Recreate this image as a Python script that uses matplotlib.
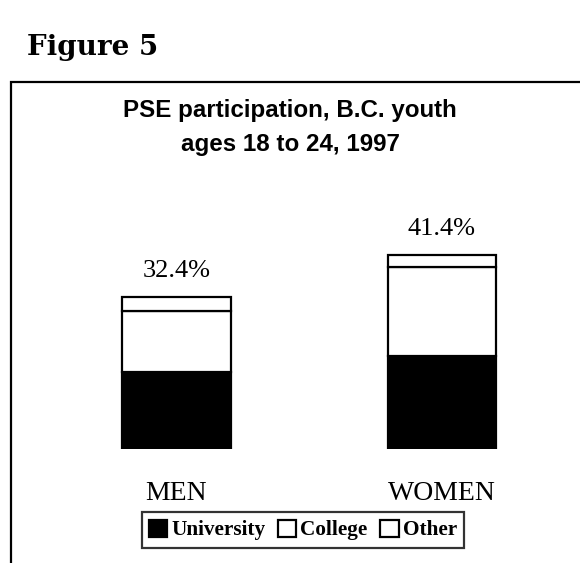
import matplotlib.pyplot as plt
from matplotlib.patches import Rectangle

# PSE participation, B.C. youth ages 18 to 24, 1997 (percent)
groups = ["MEN", "WOMEN"]
university = [16.4, 19.8]
college = [13.0, 19.0]
other = [3.0, 2.6]
totals = [32.4, 41.4]
series_names = ["University", "College", "Other"]
title_lines = ["PSE participation, B.C. youth", "ages 18 to 24, 1997"]

W, H = 580, 563
fig = plt.figure(figsize=(W / 100, H / 100), dpi=100)

# frame around the chart (cut off at right and bottom like the scan)
fig.patches.append(Rectangle((11 / W, -0.05), 1.2, (H - 82) / H + 0.05,
                             transform=fig.transFigure, fill=False,
                             edgecolor="black", linewidth=1.6))

fig.text(27 / W, 1 - 55 / H, "Figure 5", family="DejaVu Serif",
         fontweight="bold", fontsize=20, va="baseline", ha="left")

for k, line in enumerate(title_lines):
    fig.text(290 / W, 1 - (110 + 34 * k) / H, line,
             family="Liberation Sans", fontweight="bold", fontsize=17.4,
             ha="center", va="center")

# axes: y=0 at 449 px, 1% ~ 4.69 px; bar centres at 176.5 and 442 px
ax_left = 43.75 / W
ax_w = 531 / W
ax_bottom = (H - 449) / H
ax_h = 50 * 4.69 / H
ax = fig.add_axes([ax_left, ax_bottom, ax_w, ax_h])
ax.set_xlim(-0.5, 1.5)
ax.set_ylim(0, 50)
ax.axis("off")

x = range(len(groups))
bw = 0.41
lw = 1.6
b1 = ax.bar(x, university, bw, color="black", edgecolor="black", linewidth=lw,
            label=series_names[0])
bottom2 = university
b2 = ax.bar(x, college, bw, bottom=bottom2, color="white", edgecolor="black",
            linewidth=lw, label=series_names[1])
bottom3 = [u + c for u, c in zip(university, college)]
b3 = ax.bar(x, other, bw, bottom=bottom3, color="white", edgecolor="black",
            linewidth=lw, label=series_names[2])

for i, t in enumerate(totals):
    ax.text(i, t + 3.2, f"{t}%", ha="center", va="bottom",
            family="Liberation Serif", fontsize=19)
    ax.text(i, -10.9, groups[i], ha="center", va="baseline",
            family="Liberation Serif", fontsize=20)

leg = fig.legend(handles=[b1, b2, b3], labels=series_names, ncol=3,
                 loc="center", bbox_to_anchor=(303 / W, 1 - 530 / H),
                 prop={"family": "Liberation Serif", "weight": "bold", "size": 15.3},
                 frameon=True, fancybox=False, handlelength=0.85, handleheight=0.85,
                 handletextpad=0.2, columnspacing=0.6, borderpad=0.35,
                 borderaxespad=0)
leg.get_frame().set_edgecolor("black")
leg.get_frame().set_linewidth(1.6)

fig.savefig("out.png", dpi=100)
